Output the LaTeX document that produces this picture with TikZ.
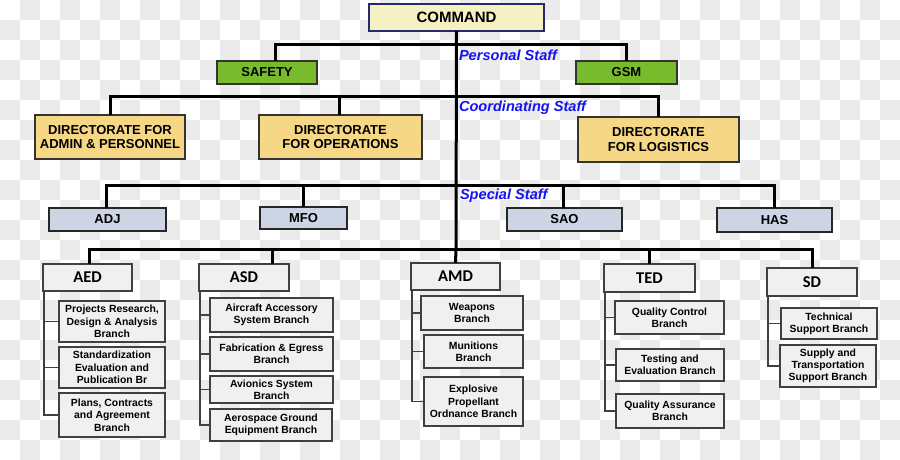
\documentclass[tikz,border=0pt]{standalone}
\usepackage{fontspec}
\setmainfont{Liberation Sans}
\newfontfamily\unitfont{Carlito}
\usetikzlibrary{calc}
\definecolor{chk}{HTML}{EBEBEB}
\definecolor{cmdfill}{HTML}{F6F1C3}
\definecolor{cmdline}{HTML}{262A6B}
\definecolor{grn}{HTML}{78BC2E}
\definecolor{dirfill}{HTML}{F5D785}
\definecolor{stafffill}{HTML}{CDD5E4}
\definecolor{boxfill}{HTML}{F0F0F0}
\definecolor{bluetxt}{HTML}{1414F0}
\definecolor{subline}{HTML}{404040}
\tikzset{
  every node/.style={inner sep=0pt, outer sep=0pt},
  cmdbox/.style={draw=cmdline, line width=1.4pt, fill=cmdfill, font=\bfseries\fontsize{15}{17}\selectfont},
  grnbox/.style={draw=black!80, line width=1.2pt, fill=grn, font=\bfseries\fontsize{13}{15}\selectfont},
  dirbox/.style={draw=black!80, line width=1.4pt, fill=dirfill, align=center, font=\bfseries\fontsize{13}{14.7}\selectfont},
  staffbox/.style={draw=black!85, line width=1.2pt, fill=stafffill, font=\bfseries\fontsize{13}{15}\selectfont},
  unitbox/.style={draw=black!75, line width=1.4pt, fill=boxfill, font=\unitfont\bfseries\fontsize{16.5}{18}\selectfont},
  subbox/.style={draw=black!75, line width=1.4pt, fill=boxfill, align=center, font=\bfseries\fontsize{10.4}{12.3}\selectfont},
  stafflabel/.style={anchor=west, text=bluetxt, font=\bfseries\itshape\fontsize{14.6}{16}\selectfont},
  mainline/.style={line width=3pt},
  subconn/.style={draw=subline, line width=1.3pt},
}
\begin{document}
\begin{tikzpicture}[x=1pt,y=-1pt]
\useasboundingbox (0,0) rectangle (900,460);
\fill[white] (0,0) rectangle (900,460);
\foreach \j in {0,2,...,22} \foreach \i in {1,3,...,43} \fill[chk] (\i*20,\j*20) rectangle ++(20,20);
\foreach \j in {1,3,...,21} \foreach \i in {0,2,...,44} \fill[chk] (\i*20,\j*20) rectangle ++(20,20);

% top
\node[cmdbox, minimum width=175, minimum height=27] (cmd) at (456.5,17.5) {COMMAND};
\node[grnbox, minimum width=100, minimum height=23] (safety) at (267,72.5) {SAFETY};
\node[grnbox, minimum width=101, minimum height=23] (gsm) at (626.5,72.5) {GSM};
\node[dirbox, minimum width=150, minimum height=44] (dira) at (110,137) {DIRECTORATE FOR\\ADMIN \& PERSONNEL};
\node[dirbox, minimum width=163, minimum height=44] (diro) at (340.5,137) {DIRECTORATE\\FOR OPERATIONS};
\node[dirbox, minimum width=161, minimum height=45] (dirl) at (658.5,139.5) {DIRECTORATE\\FOR LOGISTICS};
\node[staffbox, minimum width=117, minimum height=23] (adj) at (107.5,219.5) {ADJ};
\node[staffbox, minimum width=87, minimum height=22] (mfo) at (303.5,218) {MFO};
\node[staffbox, minimum width=115, minimum height=23] (sao) at (564.5,219.5) {SAO};
\node[staffbox, minimum width=115, minimum height=24] (has) at (774.5,220) {HAS};

\node[stafflabel] (lps) at (459,55) {Personal Staff};
\node[stafflabel] (lcs) at (459,108) {Coordinating Staff};
\node[stafflabel] (lss) at (460,196) {Special Staff};

% units
\node[unitbox, minimum width=89, minimum height=27] (aed) at (87.5,277.5) {AED};
\node[unitbox, minimum width=90, minimum height=27] (asd) at (244,277.5) {ASD};
\node[unitbox, minimum width=89, minimum height=27] (amd) at (455.5,276.5) {AMD};
\node[unitbox, minimum width=91, minimum height=28] (ted) at (649.5,278) {TED};
\node[unitbox, minimum width=90, minimum height=28] (sd) at (812,282) {SD};

% sub boxes
\node[subbox, minimum width=106, minimum height=41] (aed1) at (112,321.5) {Projects Research,\\Design \& Analysis\\Branch};
\node[subbox, minimum width=106, minimum height=41] (aed2) at (112,367.5) {Standardization\\Evaluation and\\Publication Br};
\node[subbox, minimum width=106, minimum height=44] (aed3) at (112,415) {Plans, Contracts\\and Agreement\\Branch};
\node[subbox, minimum width=123, minimum height=34] (asd1) at (271.5,315) {Aircraft Accessory\\System Branch};
\node[subbox, minimum width=123, minimum height=34] (asd2) at (271.5,354) {Fabrication \& Egress\\Branch};
\node[subbox, minimum width=123, minimum height=27] (asd3) at (271.5,389.5) {Avionics System\\Branch};
\node[subbox, minimum width=122, minimum height=32] (asd4) at (271,425) {Aerospace Ground\\Equipment Branch};
\node[subbox, minimum width=102, minimum height=34] (amd1) at (472,313) {Weapons\\Branch};
\node[subbox, minimum width=99, minimum height=33] (amd2) at (473.5,351.5) {Munitions\\Branch};
\node[subbox, minimum width=99, minimum height=49] (amd3) at (473.5,401.5) {Explosive\\Propellant\\Ordnance Branch};
\node[subbox, minimum width=109, minimum height=33] (ted1) at (669.5,317.5) {Quality Control\\Branch};
\node[subbox, minimum width=108, minimum height=32] (ted2) at (670,365) {Testing and\\Evaluation Branch};
\node[subbox, minimum width=108, minimum height=34] (ted3) at (670,411) {Quality Assurance\\Branch};
\node[subbox, minimum width=96, minimum height=31] (sd1) at (829,323.5) {Technical\\Support Branch};
\node[subbox, minimum width=96, minimum height=42] (sd2) at (828,366) {Supply and\\Transportation\\Support Branch};

% bus coordinates
\coordinate (bp) at (456,45);
\coordinate (bc) at (456,97);
\coordinate (bs) at (456,185);
\coordinate (bb) at (456,249);

\draw[mainline] (cmd.south) -- (bb);
\draw[mainline] ([xshift=8pt]safety.north) |- (bp) -| (gsm.north);
\draw[mainline] (dira.north) |- (bc) -| ([xshift=-0.5pt]dirl.north);
\draw[mainline] ([xshift=-1.5pt]diro.north) -- ([xshift=-1.5pt]diro.north |- bc);
\draw[mainline] ([xshift=-1.5pt]adj.north) |- (bs) -| ([xshift=-0.5pt]has.north);
\draw[mainline] (mfo.north) -- (mfo.north |- bs);
\draw[mainline] ([xshift=-1.5pt]sao.north) -- ([xshift=-1.5pt]sao.north |- bs);
\draw[mainline] ([xshift=1.5pt]aed.north) |- (bb) -| (sd.north);
\draw[mainline] ([xshift=28pt]asd.north) -- ([xshift=28pt]asd.north |- bb);
\draw[mainline] (amd.north) -- (bb);
\draw[mainline] ([xshift=-0.5pt]ted.north) -- ([xshift=-0.5pt]ted.north |- bb);

% sub connectors
\coordinate (aedv) at ([xshift=1pt]aed.south west);
\draw[subconn] (aedv) |- (aed3.west);
\draw[subconn] (aedv |- aed1.west) -- (aed1.west);
\draw[subconn] (aedv |- aed2.west) -- (aed2.west);
\coordinate (asdv) at ([xshift=1pt]asd.south west);
\draw[subconn] (asdv) |- (asd4.west);
\draw[subconn] (asdv |- asd1.west) -- (asd1.west);
\draw[subconn] (asdv |- asd2.west) -- (asd2.west);
\draw[subconn] (asdv |- asd3.west) -- (asd3.west);
\coordinate (amdv) at ([xshift=1pt]amd.south west);
\draw[subconn] (amdv) |- (amd3.west);
\draw[subconn] (amdv |- amd1.west) -- (amd1.west);
\draw[subconn] (amdv |- amd2.west) -- (amd2.west);
\coordinate (tedv) at ([xshift=1pt]ted.south west);
\draw[subconn] (tedv) |- (ted3.west);
\draw[subconn] (tedv |- ted1.west) -- (ted1.west);
\draw[subconn] (tedv |- ted2.west) -- (ted2.west);
\coordinate (sdv) at ([xshift=1pt]sd.south west);
\draw[subconn] (sdv) |- (sd2.west);
\draw[subconn] (sdv |- sd1.west) -- (sd1.west);
\end{tikzpicture}
\end{document}
